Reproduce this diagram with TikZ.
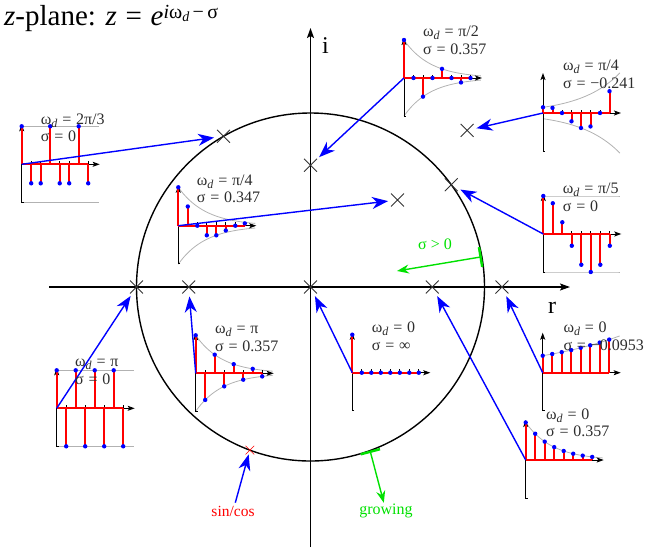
\documentclass[tikz,border=0pt]{standalone}
\usepackage{fontspec}
\setmainfont{Liberation Serif}
\usetikzlibrary{arrows.meta,calc,shapes.misc}
\definecolor{grn}{RGB}{0,225,0}
\definecolor{inkgray}{RGB}{45,45,45}
\tikzset{
  % ---- plane ------------------------------------------------------------
  axis/.style={draw=black, line width=1.4pt,
    -{Stealth[length=10pt,width=7pt,inset=2pt]}},
  unitc/.style={draw=black, line width=1.4pt},
  pole/.style={cross out, draw=black!80, line width=0.9pt,
    minimum size=12pt, inner sep=0pt},
  % ---- insets -----------------------------------------------------------
  iax/.style={draw=black, line width=1pt,
    -{Stealth[length=7pt,width=5pt,inset=1.5pt]}},
  itick/.style={draw=black, line width=0.7pt},
  stem/.style={draw=red, line width=2pt},
  env/.style={draw=black!30, line width=0.8pt},
  % ---- arrows -----------------------------------------------------------
  ptr/.style={draw=blue, line width=1.4pt,
    -{Stealth[length=16pt,width=12pt,inset=5pt]}, shorten >=3pt},
  grarr/.style={draw=grn, line width=1.4pt,
    {Bar[width=20pt,line width=2.5pt]}-{Stealth[length=12pt,width=9pt,inset=4pt]}},
  % ---- labels -----------------------------------------------------------
  lbl/.style={font=\fontsize{16}{17.5}\selectfont, text=inkgray, align=left,
    inner sep=0pt, anchor=base west},
  ttl/.style={font=\fontsize{29}{32}\selectfont, inner sep=0pt, anchor=base west},
  axl/.style={font=\fontsize{24}{28}\selectfont, inner sep=0pt, anchor=base west},
  glbl/.style={font=\fontsize{16}{18}\selectfont, text=grn, inner sep=1pt},
  rlbl/.style={font=\fontsize{15.5}{17}\selectfont, text=red, inner sep=1pt},
}

\begin{document}
\begin{tikzpicture}[x=1pt,y=-1pt]
\useasboundingbox (0,0) rectangle (648,547);

\newcommand{\omd}{ω\raisebox{-3pt}{\fontsize{12}{12}\selectfont\textit{d}}}
\newcommand{\eq}{\hspace{0.3em}=\hspace{0.3em}}
% envelope: origin, amplitude, sigma, signs
\newcommand{\env}[4]{\foreach \sg in {#4}
  \draw[env, shift={(#1)}] plot[domain=0:8.1, samples=30]
    (\x*9.5, {-(\sg)*#2*exp(-(#3)*\x)});}
% stem plot: origin, amplitude, samples
\newcommand{\stems}[3]{%
  \begin{scope}[shift={(#1)}]
    \draw[iax] (1.8,38) -- (0,38) -- (0,-40);
    \draw[iax] (0,0) -- (78,0);
    \foreach \n in {1,...,7} \draw[itick] (\n*9.5,0) -- ++(0,-3.5);
    \draw[stem] (0,0) -- (66.5,0);
    \foreach \v [count=\n from 0] in {#3} {
      \draw[stem] (\n*9.5,0) -- (\n*9.5,{-#2*(\v)});
      \fill[blue] (\n*9.5,{-#2*(\v)}) circle (2.2);
    }
  \end{scope}}

% ---- z-plane ----------------------------------------------------------------
\coordinate (c0) at (310.5,287);
\draw[unitc] (c0) circle (174);
\draw[axis] (49,287) -- (570,287);
\draw[axis] (310.5,547) -- (310.5,28);
\node[ttl] (title) at (4,25)
  {\textit{z}-plane: \textit{z}\hspace{0.3em}=\hspace{0.3em}\textit{e}%
   \raisebox{6.5pt}{\fontsize{20}{20}\selectfont\textit{i}ω\raisebox{-2.5pt}{\fontsize{14}{14}\selectfont\textit{d}}\,−\,σ}};
\node[axl] (ilbl) at (322,53) {i};
\node[axl] (rlbl) at (548,313) {r};

% ---- poles ------------------------------------------------------------------
\node[pole] (pa) at (310.5,165.2) {};
\node[pole] (pb) at (467.1,130.4) {};
\node[pole] (pc) at (223.5,136.3) {};
\node[pole] (pd) at (397.5,200) {};
\node[pole] (pe) at (451.3,184.7) {};
\node[pole] (pf) at (136.5,287) {};
\node[pole] (pg) at (188.7,287) {};
\node[pole] (ph) at (310.5,287) {};
\node[pole] (pi) at (501.9,287) {};
\node[pole] (pj) at (432.3,287) {};
\node[pole, draw=red, minimum size=8pt, line width=0.6pt] (sc) at ($(c0)+(110.4:174)$) {};

% ---- impulse responses ------------------------------------------------------
\coordinate (oa) at (404,78);
\coordinate (ob) at (543,113);
\coordinate (oc) at (21.7,164.3);
\coordinate (od) at (178.3,225.7);
\coordinate (oe) at (543.3,234);
\coordinate (of) at (56.7,408.3);
\coordinate (og) at (195.7,373.3);
\coordinate (oh) at (352.3,372.7);
\coordinate (oi) at (542.7,372.7);
\coordinate (oj) at (525.7,460);

\env{oa}{38}{0.357}{1,-1}
\stems{oa}{38}{1,0,-0.490,0,0.240,0,-0.117,0}
\env{ob}{5.7}{-0.241}{1,-1}
\stems{ob}{5.7}{1,0.900,0,-1.457,-2.622,-2.359,0,3.820}
\env{oc}{38}{0}{1,-1}
\stems{oc}{38}{1,-0.5,-0.5,1,-0.5,-0.5,1,-0.5}
\env{od}{38.4}{0.347}{1,-1}
\stems{od}{38.4}{1,0.500,0,-0.250,-0.250,-0.125,0,0.062}
\env{oe}{38}{0}{1,-1}
\stems{oe}{38}{1,0.809,0.309,-0.309,-0.809,-1,-0.809,-0.309}
\env{of}{38}{0}{1,-1}
\stems{of}{38}{1,-1,1,-1,1,-1,1,-1}
\env{og}{38}{0.357}{1,-1}
\stems{og}{38}{1,-0.700,0.490,-0.343,0.240,-0.168,0.117,-0.082}
\stems{oh}{38}{1,0,0,0,0,0,0,0}
\env{oi}{17}{-0.0953}{1}
\stems{oi}{17}{1,1.1,1.21,1.331,1.464,1.611,1.772,1.949}
\env{oj}{37.5}{0.357}{1}
\stems{oj}{37.5}{1,0.700,0.490,0.343,0.240,0.168,0.117,0.082}

\foreach \s in {a,...,j} \draw[ptr] (o\s) -- (p\s);

% ---- labels -----------------------------------------------------------------
\node[lbl] (la) at (423,54) {\omd\eq π/2\\σ\eq 0.357};
\node[lbl] (lb) at (563,88.3) {\omd\eq π/4\\σ\eq −0.241};
\node[lbl] (lc) at (40.7,141.7) {\omd\eq 2π/3\\σ\eq 0};
\node[lbl] (ld) at (196.7,202.7) {\omd\eq π/4\\σ\eq 0.347};
\node[lbl] (le) at (562.7,211) {\omd\eq π/5\\σ\eq 0};
\node[lbl] (lf) at (75,384.3) {\omd\eq π\\σ\eq 0};
\node[lbl] (lg) at (215,351) {\omd\eq π\\σ\eq 0.357};
\node[lbl] (lh) at (371.7,350) {\omd\eq 0\\σ\eq ∞};
\node[lbl] (li) at (563.3,350) {\omd\eq 0\\σ\eq −0.0953};
\node[lbl] (lj) at (546,436.7) {\omd\eq 0\\σ\eq 0.357};

% ---- stability hints --------------------------------------------------------
\coordinate (gs) at ($(c0)+(-10:174)$);
\coordinate (gt) at (397,271);
\draw[grarr] (gs) -- (gt);
\node[glbl] (sgt) at (435,244) {σ > 0};
\coordinate (gb) at ($(c0)+(70:174)$);
\node[glbl] (grw) at (386,511) {growing};
\draw[grarr] (gb) -- (grw);
\node[rlbl] (sincos) at (233,511) {sin/cos};
\draw[ptr, shorten >=0pt, shorten <=2pt] (sincos) -- (sc);

\end{tikzpicture}
\end{document}
